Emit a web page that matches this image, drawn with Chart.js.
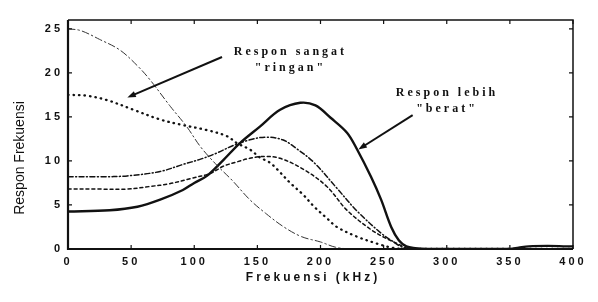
<!DOCTYPE html>
<html>
<head>
<meta charset="utf-8">
<script src="https://cdn.jsdelivr.net/npm/chart.js@4"></script>
<style>
  html, body { margin: 0; padding: 0; background: #fff; }
  #wrap { width: 598px; height: 302px; position: relative; }
</style>
</head>
<body>
<div id="wrap"><canvas id="respChart"></canvas></div>
<script>
/* frequency response curves */

const INK = '#111111';

/* very light response (dash-dot, starts at 25) */
const FREQ_A = [0, 10, 25, 41, 55, 65, 81, 94, 105, 118, 130, 144, 157, 171, 185, 200, 212, 225, 260, 300, 350, 400];
const RESP_A = [25, 24.8, 23.8, 22.6, 20.8, 19.2, 16.2, 13.9, 11.6, 9.5, 7.8, 5.6, 4.0, 2.5, 1.4, 0.8, 0.2, 0, 0, 0, 0, 0];

/* dotted, starts at 17.5 */
const FREQ_B = [0, 15, 31, 52, 73, 90, 110, 126, 134, 144, 152, 160, 166, 176, 186, 195, 205, 213, 229, 245, 255, 265, 300, 400];
const RESP_B = [17.5, 17.4, 16.9, 15.8, 14.7, 14.1, 13.5, 12.8, 12.0, 11.3, 10.4, 9.8, 9.0, 7.5, 6.2, 4.8, 3.5, 2.5, 1.4, 0.6, 0.2, 0, 0, 0];

/* dash-dot, starts at 8.2 */
const FREQ_C = [0, 25, 47, 73, 91, 105, 118, 130, 144, 157, 170, 181, 195, 213, 229, 248, 258, 265, 275, 400];
const RESP_C = [8.2, 8.2, 8.3, 8.8, 9.6, 10.2, 10.9, 11.7, 12.4, 12.7, 12.4, 11.4, 9.8, 6.9, 4.3, 1.8, 0.8, 0.2, 0, 0];

/* dashed, starts at 6.8 */
const FREQ_D = [0, 25, 47, 65, 80, 97, 113, 123, 134, 144, 155, 168, 187, 205, 221, 240, 252, 261, 268, 275, 400];
const RESP_D = [6.8, 6.8, 6.8, 7.1, 7.4, 8.0, 8.6, 9.4, 9.9, 10.3, 10.5, 10.3, 9.0, 7.1, 4.4, 2.2, 1.2, 0.6, 0.1, 0, 0];

/* heavier response (solid) */
const FREQ_E = [0, 33, 55, 73, 91, 100, 110, 123, 136, 152, 168, 184, 196, 208, 221, 229, 240, 248, 256, 262, 268, 275, 285, 300, 350, 357, 365, 380, 395, 400];
const RESP_E = [4.25, 4.4, 4.8, 5.6, 6.7, 7.5, 8.3, 10.1, 12.0, 13.9, 15.8, 16.6, 16.3, 14.9, 13.2, 11.3, 8.2, 5.6, 2.5, 1.0, 0.3, 0.1, 0, 0, 0, 0.15, 0.3, 0.35, 0.3, 0.3];

const X_TICKS = [0, 50, 100, 150, 200, 250, 300, 350, 400];
const Y_TICKS = [0, 5, 10, 15, 20, 25];

/* annotation text anchors & arrows, in data units */
const NOTES = [
  { lines: ['Respon sangat', '"ringan"'], x: 175, y: [22.4, 20.6] },
  { lines: ['Respon lebih', '"berat"'],   x: 299, y: [17.7, 15.9] },
];
const ARROWS = [
  { from: [122, 21.8], to: [47, 17.2] },
  { from: [273, 15.2], to: [230, 11.3] },
];

const pts = (xs, ys) => xs.map((x, i) => ({ x, y: ys[i] }));

function line(data, dash, width, color) {
  return {
    data,
    borderColor: color || INK,
    borderWidth: width,
    borderDash: dash,
    borderCapStyle: 'round',
    pointRadius: 0,
    fill: false,
    tension: 0.35,
  };
}

/* frame, inward ticks, titles, notes */
const decor = {
  id: 'decor',
  beforeDraw(chart) {
    chart.ctx.letterSpacing = '3px';
  },
  afterDraw(chart) {
    const { ctx, chartArea: a, scales: { x, y } } = chart;
    ctx.save();
    ctx.strokeStyle = INK;
    ctx.lineCap = 'butt';

    ctx.lineWidth = 1.5;
    ctx.beginPath();
    ctx.moveTo(a.left, a.top); ctx.lineTo(a.right, a.top); ctx.lineTo(a.right, a.bottom);
    ctx.stroke();
    ctx.lineWidth = 2.2;
    ctx.beginPath();
    ctx.moveTo(a.left, a.top); ctx.lineTo(a.left, a.bottom); ctx.lineTo(a.right, a.bottom);
    ctx.stroke();

    ctx.lineWidth = 1.2;
    ctx.beginPath();
    X_TICKS.forEach(v => {
      const px = x.getPixelForValue(v);
      ctx.moveTo(px, a.bottom); ctx.lineTo(px, a.bottom - 4);
      ctx.moveTo(px, a.top); ctx.lineTo(px, a.top + 4);
    });
    Y_TICKS.forEach(v => {
      const py = y.getPixelForValue(v);
      ctx.moveTo(a.left, py); ctx.lineTo(a.left + 4, py);
      ctx.moveTo(a.right, py); ctx.lineTo(a.right - 4, py);
    });
    ctx.stroke();

    /* axis titles */
    ctx.fillStyle = INK;
    ctx.textAlign = 'center';
    ctx.textBaseline = 'middle';
    ctx.letterSpacing = '3px';
    ctx.font = 'bold 12px "Liberation Sans", Arial, sans-serif';
    ctx.fillText('Frekuensi (kHz)', 313, 278);

    ctx.letterSpacing = '0px';
    ctx.font = '14px "Liberation Sans Narrow", "Liberation Sans", Arial, sans-serif';
    ctx.translate(20, 158);
    ctx.rotate(-Math.PI / 2);
    ctx.fillText('Respon Frekuensi', 0, 0);
    ctx.setTransform(1, 0, 0, 1, 0, 0);

    /* annotations */
    ctx.letterSpacing = '3px';
    ctx.font = 'bold 12px "Liberation Serif", "Times New Roman", serif';
    NOTES.forEach(n => {
      n.lines.forEach((t, i) => ctx.fillText(t, x.getPixelForValue(n.x) + 1.5, y.getPixelForValue(n.y[i])));
    });

    ARROWS.forEach(ar => {
      const x0 = x.getPixelForValue(ar.from[0]), y0 = y.getPixelForValue(ar.from[1]);
      const x1 = x.getPixelForValue(ar.to[0]),   y1 = y.getPixelForValue(ar.to[1]);
      const ang = Math.atan2(y1 - y0, x1 - x0);
      ctx.lineWidth = 2;
      ctx.beginPath();
      ctx.moveTo(x0, y0);
      ctx.lineTo(x1 - 6 * Math.cos(ang), y1 - 6 * Math.sin(ang));
      ctx.stroke();
      ctx.beginPath();
      ctx.moveTo(x1, y1);
      ctx.lineTo(x1 - 9 * Math.cos(ang - 0.35), y1 - 9 * Math.sin(ang - 0.35));
      ctx.lineTo(x1 - 9 * Math.cos(ang + 0.35), y1 - 9 * Math.sin(ang + 0.35));
      ctx.closePath();
      ctx.fill();
    });
    ctx.restore();
  },
};

new Chart(document.getElementById('respChart'), {
  type: 'line',
  data: {
    datasets: [
      line(pts(FREQ_A, RESP_A), [7, 3, 1.5, 3], 1, '#333333'),
      line(pts(FREQ_B, RESP_B), [0.5, 5], 2.3),
      line(pts(FREQ_C, RESP_C), [5, 2.5, 1, 2.5], 1.5),
      line(pts(FREQ_D, RESP_D), [3, 3], 1.5),
      line(pts(FREQ_E, RESP_E), [], 2.4),
    ],
  },
  options: {
    responsive: true,
    maintainAspectRatio: false,
    animation: false,
    layout: { padding: { left: 0, right: 25, top: 20, bottom: 0 } },
    plugins: { legend: { display: false }, tooltip: { enabled: false } },
    scales: {
      x: {
        type: 'linear',
        min: 0, max: 400,
        afterFit: s => { s.height = 53; },
        afterBuildTicks: s => { s.ticks = X_TICKS.map(v => ({ value: v })); },
        ticks: { color: INK, padding: -2, maxRotation: 0, font: { family: '"Liberation Sans", Arial, sans-serif', size: 11, weight: 'bold' } },
        grid: { display: false },
        border: { display: false },
      },
      y: {
        min: 0, max: 26,
        afterFit: s => { s.width = 68; },
        afterBuildTicks: s => { s.ticks = Y_TICKS.map(v => ({ value: v })); },
        ticks: { color: INK, padding: -3, font: { family: '"Liberation Sans", Arial, sans-serif', size: 11, weight: 'bold' } },
        grid: { display: false },
        border: { display: false },
      },
    },
  },
  plugins: [decor],
});
</script>
</body>
</html>
